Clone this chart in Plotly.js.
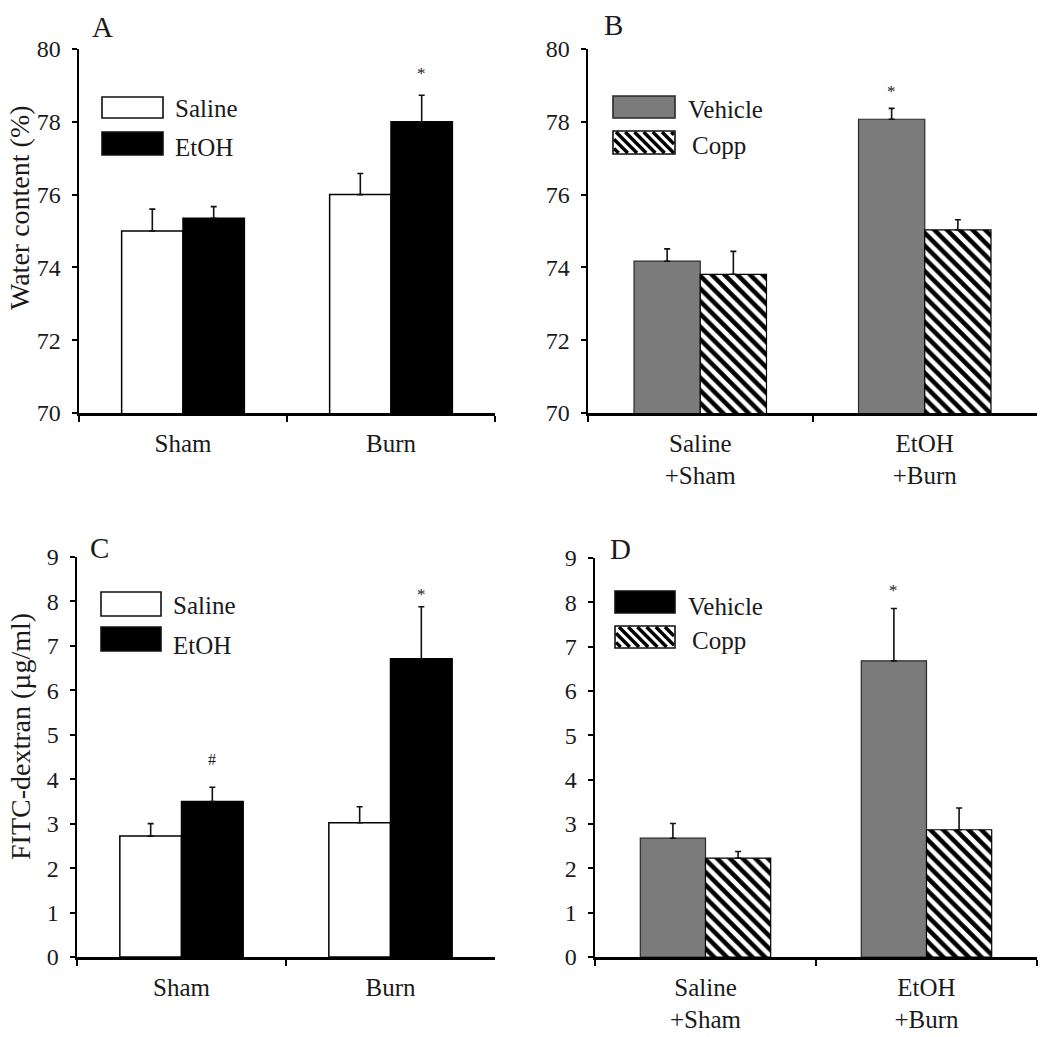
<!DOCTYPE html>
<html><head><meta charset="utf-8">
<script src="https://cdn.plot.ly/plotly-3.0.1.min.js"></script>
<style>body{margin:0;background:#fff}#chart{width:1050px;height:1037px}</style>
</head><body><div id="chart"></div>
<script>
// ---- data ----
const catsA = ['Sham', 'Burn'];
const catsB = ['Saline<br>+Sham', 'EtOH<br>+Burn'];

const salineA = [75.0, 76.0];
const salineAErr = [0.6, 0.58];
const etohA = [75.35, 78.0];
const etohAErr = [0.32, 0.73];
const sigA = ['', '*'];          // over EtOH bars

const vehicleB = [74.17, 78.07];
const vehicleBErr = [0.34, 0.30];
const coppB = [73.81, 75.03];
const coppBErr = [0.63, 0.28];
const sigB = ['', '*'];          // over Vehicle bars

const salineC = [2.72, 3.02];
const salineCErr = [0.28, 0.36];
const etohC = [3.5, 6.71];
const etohCErr = [0.32, 1.17];
const sigC = ['#', '*'];         // over EtOH bars

const vehicleD = [2.68, 6.68];
const vehicleDErr = [0.33, 1.18];
const coppD = [2.23, 2.87];
const coppDErr = [0.15, 0.49];
const sigD = ['', '*'];          // over Vehicle bars

const namesAC = ['Saline', 'EtOH'];
const namesBD = ['Vehicle', 'Copp'];

// ---- styles ----
const FONT = 'Liberation Serif, Times New Roman, serif';
const TXT = '#1a1a1a';
const GRAY = '#7b7b7b';
const BARGAP = 0.41;

function errBar(arr) {
  return {type: 'data', array: arr, arrayminus: arr.map(() => 0), symmetric: false,
          color: '#111', thickness: 1.6, width: 3};
}
const whiteM = {color: '#ffffff', line: {color: '#000', width: 1.5}};
const blackM = {color: '#000000', line: {color: '#000', width: 1.5}};
const grayM = {color: GRAY, line: {color: '#2a2a2a', width: 1.2}};
const hatchM = {color: '#ffffff', line: {color: '#000', width: 1.2},
  pattern: {shape: '\\', size: 9, solidity: 0.5, fgcolor: '#000', bgcolor: '#fff', fillmode: 'replace'}};

const traces = [
  {type: 'bar', x: catsA, y: salineA, error_y: errBar(salineAErr), name: namesAC[0], marker: whiteM, xaxis: 'x', yaxis: 'y'},
  {type: 'bar', x: catsA, y: etohA, error_y: errBar(etohAErr), name: namesAC[1], marker: blackM, xaxis: 'x', yaxis: 'y'},
  {type: 'bar', x: catsB, y: vehicleB, error_y: errBar(vehicleBErr), name: namesBD[0], marker: grayM, xaxis: 'x2', yaxis: 'y2'},
  {type: 'bar', x: catsB, y: coppB, error_y: errBar(coppBErr), name: namesBD[1], marker: hatchM, xaxis: 'x2', yaxis: 'y2'},
  {type: 'bar', x: catsA, y: salineC, error_y: errBar(salineCErr), name: namesAC[0], marker: whiteM, xaxis: 'x3', yaxis: 'y3'},
  {type: 'bar', x: catsA, y: etohC, error_y: errBar(etohCErr), name: namesAC[1], marker: blackM, xaxis: 'x3', yaxis: 'y3'},
  {type: 'bar', x: catsB, y: vehicleD, error_y: errBar(vehicleDErr), name: namesBD[0], marker: grayM, xaxis: 'x4', yaxis: 'y4'},
  {type: 'bar', x: catsB, y: coppD, error_y: errBar(coppDErr), name: namesBD[1], marker: hatchM, xaxis: 'x4', yaxis: 'y4'}
];

const W = 1050, H = 1037;
const px = v => v / W;
const py = v => 1 - v / H;

function xax(dom, anchor) {
  return {domain: dom, anchor: anchor, type: 'category', showline: true, linewidth: 2.5, linecolor: '#000',
    ticks: 'outside', tickson: 'boundaries', ticklen: 6, tickwidth: 2, tickcolor: '#000',
    ticklabelstandoff: 6, showgrid: false, zeroline: false, fixedrange: true,
    tickfont: {family: FONT, size: 25, color: TXT}};
}
function yax(dom, anchor, range, dtick) {
  return {domain: dom, anchor: anchor, range: range, dtick: dtick, showline: true, linewidth: 2.5, linecolor: '#000',
    ticks: 'outside', ticklen: 5, tickwidth: 2, tickcolor: '#000',
    ticklabelstandoff: 6, showgrid: false, zeroline: false, fixedrange: true,
    tickfont: {family: FONT, size: 24, color: TXT}};
}

const half = (1 - BARGAP) / 4;
const annotations = [];
const shapes = [];

// significance markers: side -1 = first trace of the pair, +1 = second
function sigAnn(sig, vals, errs, side, xref, yref, shifts, sizes) {
  sig.forEach((s, i) => {
    if (!s) return;
    annotations.push({x: i + side * half, y: vals[i] + errs[i], xref: xref, yref: yref, text: s, showarrow: false,
      yanchor: 'bottom', yshift: shifts[i], font: {family: FONT, size: sizes[i], color: TXT}});
  });
}
sigAnn(sigA, etohA, etohAErr, 1, 'x', 'y', [0, 10], [17, 17]);
sigAnn(sigB, vehicleB, vehicleBErr, -1, 'x2', 'y2', [0, 5], [17, 17]);
sigAnn(sigC, etohC, etohCErr, 1, 'x3', 'y3', [17, 1], [16, 17]);
sigAnn(sigD, vehicleD, vehicleDErr, -1, 'x4', 'y4', [0, 7], [17, 17]);

// panel letters
[['A', 102, 27], ['B', 613, 25], ['C', 99, 548], ['D', 620, 549]].forEach(l =>
  annotations.push({x: px(l[1]), y: py(l[2]), xref: 'paper', yref: 'paper', text: l[0], showarrow: false,
    xanchor: 'center', yanchor: 'middle', font: {family: FONT, size: 29, color: TXT}}));

// y-axis titles
annotations.push({x: px(20), y: py(208), xref: 'paper', yref: 'paper', text: 'Water content (%)', textangle: -90, showarrow: false,
  xanchor: 'center', yanchor: 'middle', font: {family: FONT, size: 28, color: TXT}});
annotations.push({x: px(20), y: py(737), xref: 'paper', yref: 'paper', text: 'FITC-dextran (µg/ml)', textangle: -90, showarrow: false,
  xanchor: 'center', yanchor: 'middle', font: {family: FONT, size: 28, color: TXT}});

// ---- legends (drawn as shapes + text) ----
function hatchPath(x0, y0, x1, y1, step) {
  let d = '';
  const h = y1 - y0;
  for (let c = x0 - h + step / 2; c < x1; c += step) {
    const ya = Math.max(y0, y0 + x0 - c), yb = Math.min(y1, y0 + x1 - c);
    if (yb <= ya) continue;
    const xa = c + (ya - y0), xb = c + (yb - y0);
    d += 'M' + px(xa) + ',' + py(ya) + 'L' + px(xb) + ',' + py(yb);
  }
  return d;
}
function legendItem(label, kind, bx0, by0, bx1, by1, tx, ty) {
  const rect = {type: 'rect', xref: 'paper', yref: 'paper', x0: px(bx0), x1: px(bx1), y0: py(by1), y1: py(by0), layer: 'above'};
  if (kind === 'hatch') {
    shapes.push(Object.assign({}, rect, {fillcolor: '#fff', line: {width: 0}}));
    shapes.push({type: 'path', xref: 'paper', yref: 'paper', path: hatchPath(bx0 + 1, by0 + 1, bx1 - 1, by1 - 1, 9.2),
      line: {color: '#000', width: 3.4}, layer: 'above'});
    shapes.push(Object.assign({}, rect, {fillcolor: 'rgba(0,0,0,0)', line: {color: '#111', width: 1.6}}));
  } else {
    const fill = {white: '#fff', black: '#000', gray: GRAY}[kind];
    shapes.push(Object.assign({}, rect, {fillcolor: fill, line: {color: kind === 'gray' ? '#2a2a2a' : '#111', width: 1.6}}));
  }
  annotations.push({x: px(tx), y: py(ty), xref: 'paper', yref: 'paper', text: label, showarrow: false,
    xanchor: 'left', yanchor: 'middle', font: {family: FONT, size: 25, color: TXT}});
}
legendItem(namesAC[0], 'white', 102, 97, 163, 118, 173, 109);
legendItem(namesAC[1], 'black', 102, 132, 163, 155, 173, 147);
legendItem(namesBD[0], 'gray', 613, 96, 675, 118, 686, 110);
legendItem(namesBD[1], 'hatch', 613, 131, 675, 154, 690, 145);
legendItem(namesAC[0], 'white', 101, 592, 161, 616, 171, 605);
legendItem(namesAC[1], 'black', 101, 627, 161, 651, 171, 645);
legendItem(namesBD[0], 'black', 615, 591, 675, 613, 686, 606);
legendItem(namesBD[1], 'hatch', 615, 626, 675, 648, 690, 640);

const layout = {
  width: W, height: H, margin: {l: 0, r: 0, t: 0, b: 0},
  paper_bgcolor: '#fff', plot_bgcolor: '#fff',
  barmode: 'group', bargap: BARGAP, bargroupgap: 0,
  showlegend: false,
  xaxis: xax([px(79), px(495)], 'y'),
  yaxis: yax([py(413), py(49)], 'x', [70, 80], 2),
  xaxis2: xax([px(588), px(1037)], 'y2'),
  yaxis2: yax([py(413), py(49)], 'x2', [70, 80], 2),
  xaxis3: xax([px(77), px(495)], 'y3'),
  yaxis3: yax([py(957), py(557)], 'x3', [0, 9], 1),
  xaxis4: xax([px(595), px(1037)], 'y4'),
  yaxis4: yax([py(957), py(558)], 'x4', [0, 9], 1),
  annotations: annotations,
  shapes: shapes
};

Plotly.newPlot('chart', traces, layout, {staticPlot: true, displayModeBar: false});
</script></body></html>
